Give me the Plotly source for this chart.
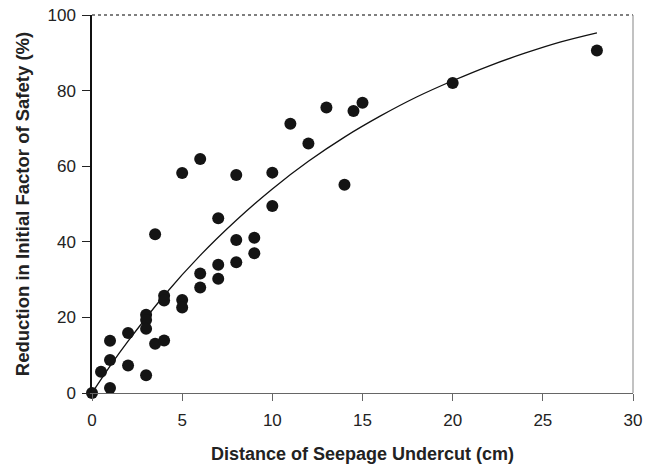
import plotly.graph_objects as go

# Observed data (distance of seepage undercut, reduction in FS)
undercut_cm = [0, 0.5, 1, 1, 1, 2, 2, 3, 3, 3, 3, 3.5, 3.5, 4, 4, 4,
               5, 5, 5, 6, 6, 6, 7, 7, 7, 8, 8, 8, 9, 9, 10, 10,
               11, 12, 13, 14, 14.5, 15, 20, 28]
reduction_pct = [0, 5.6, 13.8, 8.7, 1.3, 15.9, 7.3, 20.7, 19.3, 17.0, 4.7, 42.0, 13.0, 25.7, 24.5, 13.9,
                 58.2, 24.6, 22.6, 61.9, 31.6, 27.9, 46.2, 33.9, 30.2, 57.7, 40.5, 34.6, 41.1, 37.0, 58.3, 49.5,
                 71.2, 66.0, 75.5, 55.1, 74.6, 76.8, 82.0, 90.6]

# Fitted curve
fit_x = [0, 1, 2, 4, 6, 8, 10, 12, 14, 16, 18, 20, 22, 24, 26, 28]
fit_y = [0, 7.1, 13.7, 25.8, 36.4, 45.7, 54.0, 61.3, 67.7, 73.3, 78.3, 82.6, 86.5, 89.9, 92.9, 95.3]

x_ticks = [0, 5, 10, 15, 20, 25, 30]
y_ticks = [0, 20, 40, 60, 80, 100]

FONT = "Liberation Sans, Arial, sans-serif"

fig = go.Figure()
fig.add_trace(go.Scatter(x=fit_x, y=fit_y, mode="lines",
                         line=dict(color="#111111", width=1.3, shape="spline"),
                         hoverinfo="skip", showlegend=False))
fig.add_trace(go.Scatter(x=undercut_cm, y=reduction_pct, mode="markers",
                         marker=dict(color="#141414", size=12, line=dict(width=0)),
                         cliponaxis=False, showlegend=False))

fig.update_layout(
    width=654, height=468,
    margin=dict(l=92, r=21, t=15, b=75, autoexpand=False),
    paper_bgcolor="white", plot_bgcolor="white",
    font=dict(family=FONT, color="#222222", size=17),
    xaxis=dict(range=[0, 30], tickvals=x_ticks, ticks="outside", ticklen=7,
               tickcolor="#666666", showline=True, linecolor="#666666", linewidth=1.3,
               showgrid=False, zeroline=False, automargin=False, ticklabelstandoff=4,
               tickfont=dict(size=17, family=FONT, color="#222222"),
               title=dict(text="<b>Distance of Seepage Undercut (cm)</b>",
                          font=dict(size=18, family=FONT, color="#222222"), standoff=18)),
    yaxis=dict(range=[0, 100], tickvals=y_ticks, ticks="outside", ticklen=8,
               tickcolor="#222222", showline=True, linecolor="#111111", linewidth=1.5,
               showgrid=False, zeroline=False, automargin=False, ticklabelstandoff=3,
               tickfont=dict(size=17, family=FONT, color="#222222"),
               title=dict(text="<b>Reduction in Initial Factor of Safety (%)</b>",
                          font=dict(size=18.5, family=FONT, color="#222222"), standoff=13)),
    shapes=[
        dict(type="line", xref="paper", yref="paper", x0=0, x1=1, y0=1, y1=1,
             line=dict(color="#555555", width=1.3, dash="dot")),
        dict(type="line", xref="paper", yref="paper", x0=1, x1=1, y0=0, y1=1,
             line=dict(color="#999999", width=1.2)),
    ],
)

fig.write_html("out.html", config={"displayModeBar": False},
               post_script="document.body.style.margin='0';document.body.style.padding='0';")
